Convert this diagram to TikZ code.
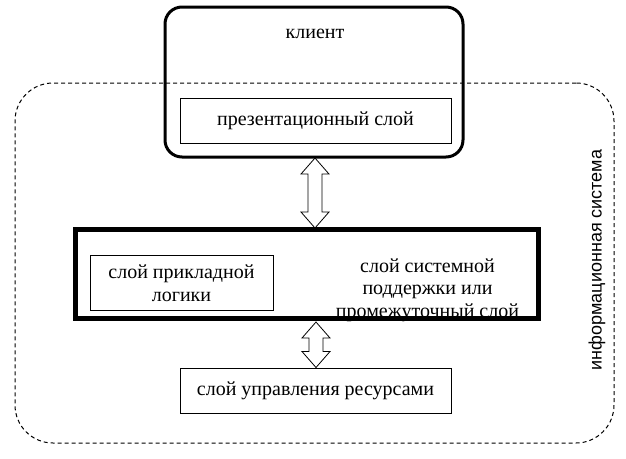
\documentclass[tikz,border=0pt]{standalone}
\usepackage{fontspec}
\setmainfont{Liberation Serif}
\newfontfamily\layerfont{Liberation Serif}
\newfontfamily\sysfont{Liberation Sans}
\usepackage{tikz}
\usetikzlibrary{positioning,calc}
\newcommand\dblarrow[2]{%
  \draw[line width=0.6pt] let \p1=(#1), \p2=(#2) in
    (\x1,\y1) -- (\x1+10.5pt,\y1-12pt) -- (\x1+5.25pt,\y1-12pt)
    -- (\x1+5.25pt,\y2+12pt) -- (\x1+10.5pt,\y2+12pt) -- (\x1,\y2)
    -- (\x1-10.5pt,\y2+12pt) -- (\x1-5.25pt,\y2+12pt)
    -- (\x1-5.25pt,\y1-12pt) -- (\x1-10.5pt,\y1-12pt) -- cycle;}

\begin{document}
\begin{tikzpicture}[x=0.75pt, y=-0.75pt, font=\layerfont\fontsize{15}{17}\selectfont,
    layer/.style={draw, line width=0.75pt, inner sep=0pt, minimum width=203.25pt, minimum height=33.75pt}]
      \useasboundingbox (0,0) rectangle (626,458);
      \node[draw, line width=0.75pt, dash pattern=on 3pt off 2.25pt, rounded corners=28.5pt,
            minimum width=449.25pt, minimum height=270pt] (infosys) at (314.5,263) {};
      \node[rotate=90, font=\sysfont\fontsize{13.5}{16}\selectfont] (infolabel) at (597,260) {информационная система};

      \node[draw, line width=2.25pt, rounded corners=12.75pt, minimum width=223.5pt, minimum height=112.5pt] (client) at (314,82) {};
      \node (clientlabel) at (315,34) {клиент};
      \node[layer] (pres) at (315.5,120.5) {презентационный слой};

      \node[draw, line width=3.75pt, minimum width=347.25pt, minimum height=66.75pt] (middle) at (306.5,274) {};
      \node[draw, line width=0.75pt, minimum width=137.25pt, minimum height=41.25pt, align=center] (logic) at (181.5,283) {слой прикладной\\логики};
      \node[align=center] (support) at (427.5,290) {слой системной\\поддержки или\\промежуточный слой};

      \node[layer] (resources) at (315.5,390.5) {слой управления ресурсами};

      \coordinate (a1) at (315,158);
      \coordinate (b1) at (315,228);
      \coordinate (a2) at (316,322);
      \dblarrow{a1}{b1}
      \dblarrow{a2}{resources.north -| a2}
    \end{tikzpicture}
\end{document}
